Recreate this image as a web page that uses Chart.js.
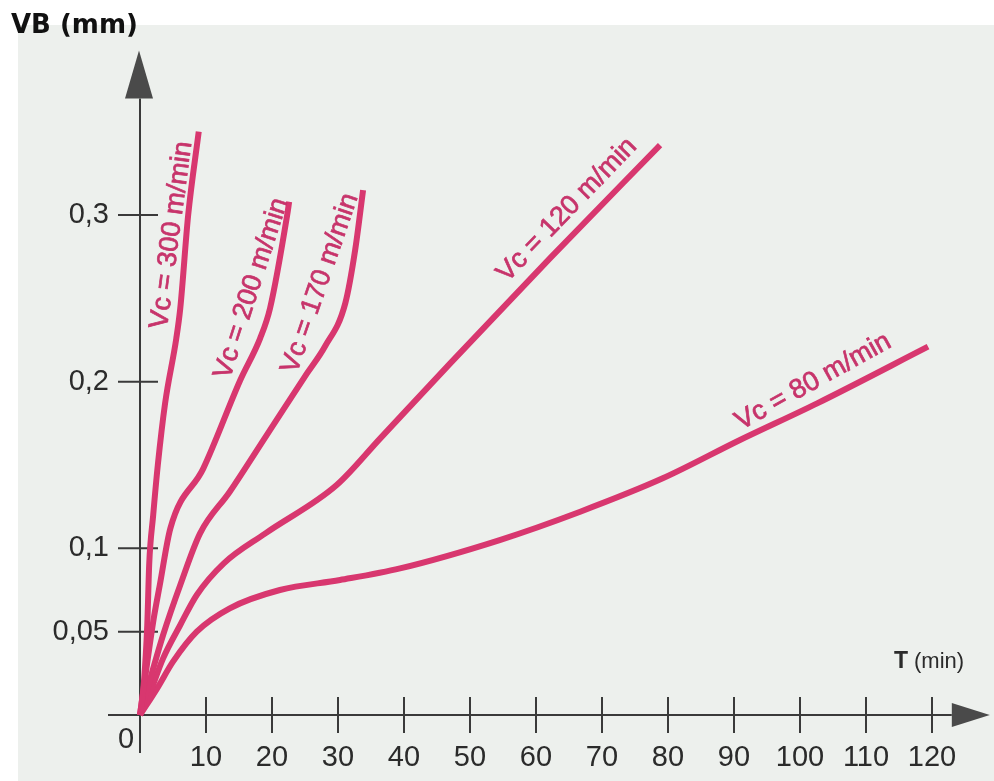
<!DOCTYPE html>
<html>
<head>
<meta charset="utf-8">
<script src="https://cdn.jsdelivr.net/npm/chart.js@4"></script>
<style>
  body { margin: 0; background: #fff; }
  canvas { display: block; }
</style>
</head>
<body>
<canvas id="usure" width="994" height="781"></canvas>
<script>
// Courbes d'usure VB = f(T) pour différentes vitesses de coupe
var vcLabels = ['Vc = 300 m/min', 'Vc = 200 m/min', 'Vc = 170 m/min', 'Vc = 120 m/min', 'Vc = 80 m/min'];

// T (min) et VB (mm)
var t300  = [0, 0.6, 1.1, 1.4, 2.0, 2.7, 3.8, 5.5, 6.1, 7.3, 8.9];
var vb300 = [0, 0.020, 0.054, 0.091, 0.120, 0.150, 0.187, 0.226, 0.244, 0.300, 0.350];

var t200  = [0, 2.0, 3.0, 4.6, 9.6, 15.2, 18.2, 19.7, 22.3, 22.6];
var vb200 = [0, 0.056, 0.078, 0.112, 0.148, 0.201, 0.226, 0.244, 0.300, 0.308];

var t170  = [0, 1.5, 3.5, 6.1, 9.1, 13.6, 19.2, 25.3, 28.0, 31.1, 32.6, 33.8];
var vb170 = [0, 0.021, 0.048, 0.078, 0.109, 0.134, 0.168, 0.205, 0.221, 0.247, 0.279, 0.315];

var t120  = [0, 1.1, 3.5, 6.1, 8.6, 12.7, 19.0, 29.8, 36.4, 47.0, 62.1, 78.8];
var vb120 = [0, 0.009, 0.034, 0.054, 0.072, 0.091, 0.109, 0.138, 0.166, 0.211, 0.274, 0.342];

var t80   = [0, 2.6, 5.0, 8.6, 13.6, 21.2, 30.3, 39.4, 54.5, 66.7, 79.2, 90.9, 102.6, 119.4];
var vb80  = [0, 0.016, 0.032, 0.050, 0.064, 0.075, 0.081, 0.088, 0.105, 0.122, 0.142, 0.165, 0.187, 0.221];

// Graduations
var xTicks = [10, 20, 30, 40, 50, 60, 70, 80, 90, 100, 110, 120];
var yTicks = [0.05, 0.1, 0.2, 0.3];

var couleurCourbe = '#d8376f';
var couleurTexte = '#c7346b';
var couleurAxe = '#3a3a3a';

function points(ts, vbs) {
    return ts.map(function (t, i) { return { x: t, y: vbs[i] }; });
}

var series = [points(t300, vb300), points(t200, vb200), points(t170, vb170), points(t120, vb120), points(t80, vb80)];

// Placement des étiquettes le long des courbes (en coordonnées T, VB) et angle en degrés
var etiquettes = [
    { t: 4.8, vb: 0.288, angle: -82.5 },
    { t: 16.9, vb: 0.256, angle: -72 },
    { t: 27.3, vb: 0.259, angle: -71 },
    { t: 64.7, vb: 0.303, angle: -46 },
    { t: 102.0, vb: 0.200, angle: -29 }
];

var dessinAxes = {
    id: 'dessinAxes',
    beforeDraw: function (chart) {
        var ctx = chart.ctx;
        ctx.save();
        ctx.fillStyle = '#fff';
        ctx.fillRect(0, 0, chart.width, chart.height);
        // fond gris clair de la page scannée
        ctx.fillStyle = '#edf0ed';
        ctx.fillRect(18, 25, chart.width - 18, chart.height - 25);
        ctx.restore();
    },
    beforeDatasetsDraw: function (chart) {
        var ctx = chart.ctx;
        var xs = chart.scales.x, ys = chart.scales.y;
        var x0 = xs.getPixelForValue(0);
        var y0 = ys.getPixelForValue(0);
        ctx.save();
        ctx.strokeStyle = couleurAxe;
        ctx.fillStyle = '#4a4a4a';
        ctx.lineWidth = 2;

        // axe vertical
        ctx.beginPath();
        ctx.moveTo(x0, y0 + 38);
        ctx.lineTo(x0, chart.chartArea.top + 50);
        ctx.stroke();
        ctx.beginPath();
        ctx.moveTo(x0 - 1, chart.chartArea.top + 2);
        ctx.lineTo(x0 - 15, chart.chartArea.top + 50);
        ctx.lineTo(x0 + 13, chart.chartArea.top + 50);
        ctx.closePath();
        ctx.fill();

        // axe horizontal
        ctx.beginPath();
        ctx.moveTo(x0 - 32, y0);
        ctx.lineTo(xs.getPixelForValue(123), y0);
        ctx.stroke();
        var xb = xs.getPixelForValue(123);
        ctx.beginPath();
        ctx.moveTo(xb + 38, y0);
        ctx.lineTo(xb, y0 - 12);
        ctx.lineTo(xb, y0 + 12);
        ctx.closePath();
        ctx.fill();

        // graduations
        ctx.beginPath();
        yTicks.forEach(function (v) {
            var y = ys.getPixelForValue(v);
            ctx.moveTo(x0 - 22, y);
            ctx.lineTo(x0 + 18, y);
        });
        xTicks.forEach(function (v) {
            var x = xs.getPixelForValue(v);
            ctx.moveTo(x, y0 - 18);
            ctx.lineTo(x, y0 + 18);
        });
        ctx.stroke();
        ctx.restore();
    },
    afterDatasetsDraw: function (chart) {
        var ctx = chart.ctx;
        var xs = chart.scales.x, ys = chart.scales.y;
        ctx.save();

        // étiquettes des courbes
        ctx.fillStyle = couleurTexte;
        ctx.strokeStyle = couleurTexte;
        ctx.lineWidth = 0.7;
        ctx.font = '27px "Liberation Sans", Arial, sans-serif';
        ctx.textAlign = 'center';
        ctx.textBaseline = 'middle';
        etiquettes.forEach(function (e, i) {
            ctx.save();
            ctx.translate(xs.getPixelForValue(e.t), ys.getPixelForValue(e.vb));
            ctx.rotate(e.angle * Math.PI / 180);
            ctx.fillText(vcLabels[i], 0, 0);
            ctx.strokeText(vcLabels[i], 0, 0);
            ctx.restore();
        });

        // titres des axes
        ctx.fillStyle = '#111';
        ctx.textAlign = 'left';
        ctx.textBaseline = 'alphabetic';
        ctx.font = 'bold 26px "DejaVu Sans", sans-serif';
        ctx.fillText('VB (mm)', 11, 33);

        ctx.fillStyle = '#2b2b2b';
        ctx.font = 'bold 23px "Liberation Sans", Arial, sans-serif';
        ctx.fillText('T', 894, 668);
        ctx.font = '22px "Liberation Sans", Arial, sans-serif';
        ctx.fillText('(min)', 914, 668);

        ctx.font = '29px "Liberation Sans", Arial, sans-serif';
        ctx.textAlign = 'center';
        ctx.fillText('0', 126, 748);
        ctx.restore();
    }
};

Chart.defaults.font.family = '"Liberation Sans", Arial, sans-serif';

var ctx = document.getElementById('usure').getContext('2d');

var data = {
    datasets: series.map(function (pts, i) {
        return {
            label: vcLabels[i],
            data: pts,
            borderColor: couleurCourbe,
            borderWidth: 6,
            borderCapStyle: 'butt',
            borderJoinStyle: 'round',
            pointRadius: 0,
            cubicInterpolationMode: 'monotone',
            fill: false,
            clip: false
        };
    })
};

var options = {
    responsive: false,
    animation: false,
    layout: { padding: { top: 35, right: 29, left: 0, bottom: 0 } },
    plugins: {
        legend: { display: false },
        tooltip: { enabled: false }
    },
    scales: {
        x: {
            type: 'linear',
            min: 0,
            max: 125,
            grid: { display: false, drawTicks: false },
            border: { display: false },
            afterBuildTicks: function (scale) {
                scale.ticks = xTicks.map(function (v) { return { value: v }; });
            },
            afterFit: function (scale) { scale.height = 66; },
            ticks: {
                autoSkip: false,
                maxRotation: 0,
                padding: 26,
                color: '#2b2b2b',
                font: { size: 29 }
            }
        },
        y: {
            type: 'linear',
            min: 0,
            max: 0.4,
            grid: { display: false, drawTicks: false },
            border: { display: false },
            afterBuildTicks: function (scale) {
                scale.ticks = yTicks.map(function (v) { return { value: v }; });
            },
            afterFit: function (scale) { scale.width = 140; },
            ticks: {
                autoSkip: false,
                padding: 31,
                color: '#2b2b2b',
                font: { size: 29 },
                callback: function (v) { return String(v).replace('.', ','); }
            }
        }
    }
};

var graphique = new Chart(ctx, {
    type: 'line',
    data: data,
    options: options,
    plugins: [dessinAxes]
});
</script>
</body>
</html>
